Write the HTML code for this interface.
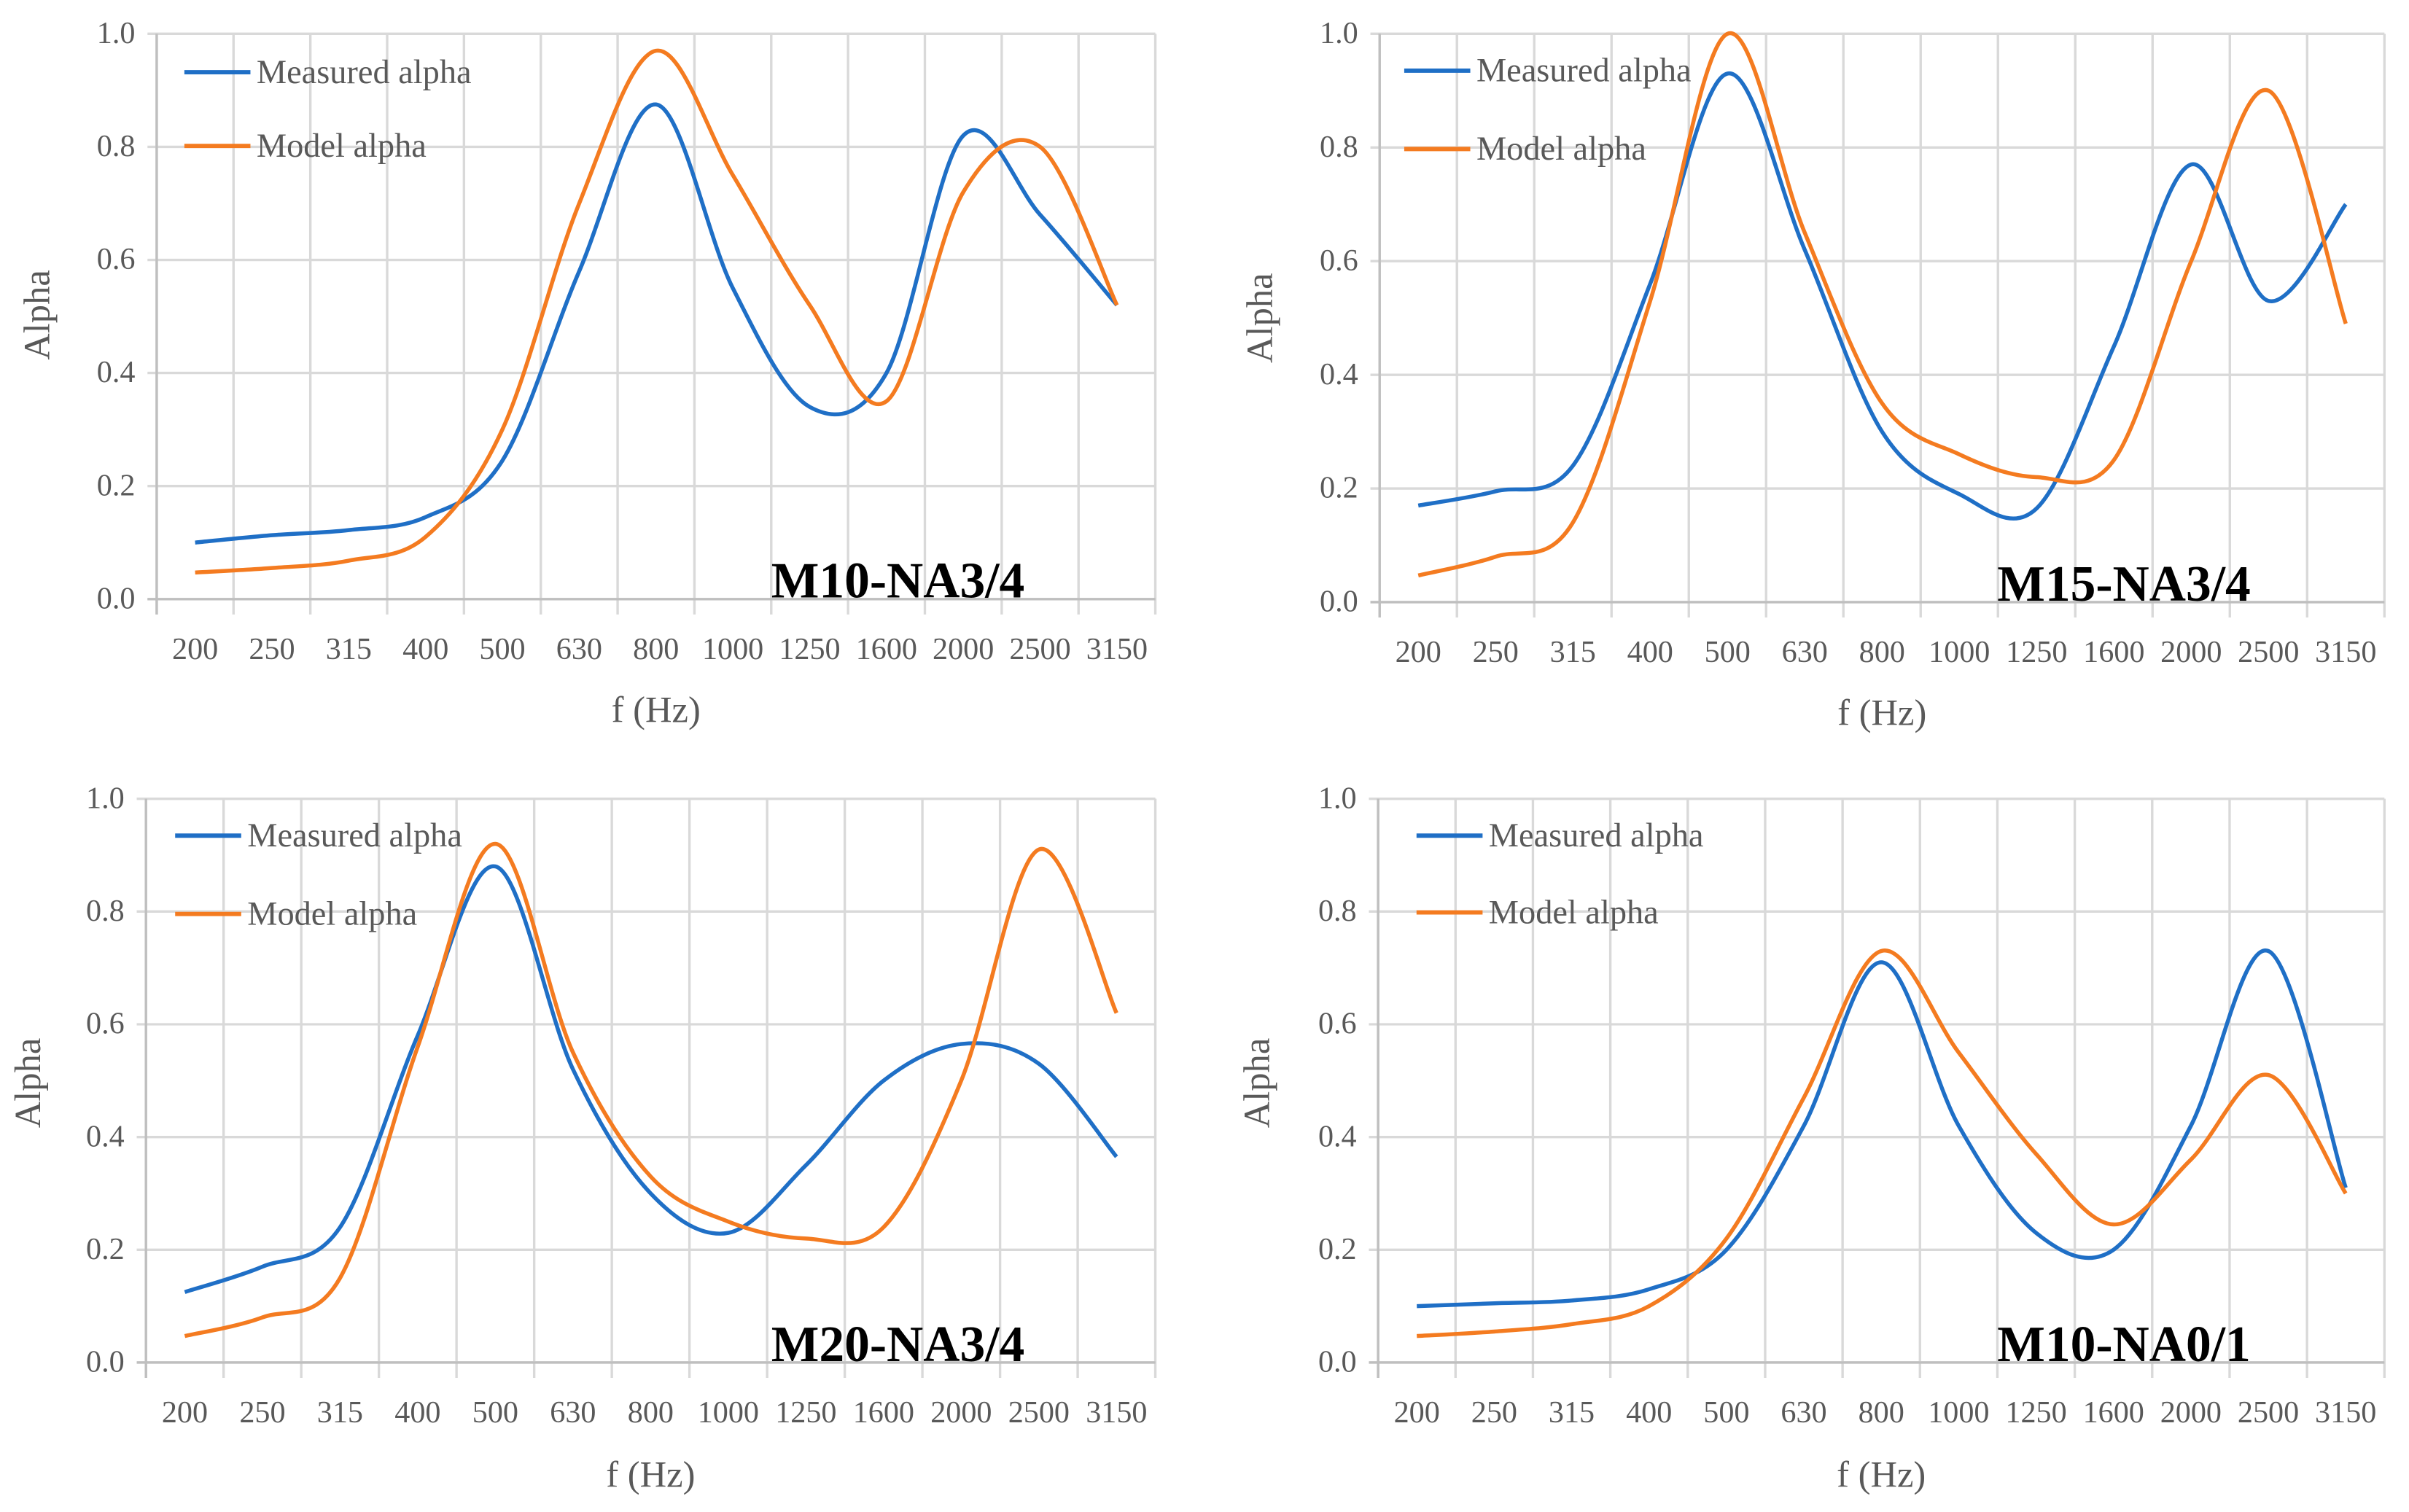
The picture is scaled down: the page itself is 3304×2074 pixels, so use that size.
<!DOCTYPE html>
<html><head><meta charset="utf-8"><style>
html,body{margin:0;padding:0;background:#fff;}
svg{display:block;}
.tick{font-family:"Liberation Serif",serif;font-size:20px;fill:#595959;}
.axt{font-family:"Liberation Serif",serif;font-size:24px;fill:#595959;}
.leg{font-family:"Liberation Serif",serif;font-size:22px;fill:#595959;}
.ann{font-family:"Liberation Serif",serif;font-size:33px;font-weight:bold;fill:#000;}
</style></head><body>
<svg id="chart" width="3304" height="2074" viewBox="0 0 1568 984.3" preserveAspectRatio="none" xmlns="http://www.w3.org/2000/svg"></svg>
<script>
const categories = ["200","250","315","400","500","630","800","1000","1250","1600","2000","2500","3150"];
const yTicks = ["0.0","0.2","0.4","0.6","0.8","1.0"];
const m10na34Measured = [0.10,0.113,0.122,0.145,0.245,0.58,0.875,0.55,0.34,0.40,0.82,0.68,0.52];
const m10na34Model = [0.047,0.055,0.068,0.11,0.30,0.70,0.97,0.75,0.52,0.35,0.72,0.80,0.52];
const m15na34Measured = [0.17,0.195,0.24,0.56,0.93,0.62,0.30,0.19,0.165,0.45,0.77,0.53,0.70];
const m15na34Model = [0.047,0.08,0.14,0.53,1.0,0.65,0.35,0.26,0.22,0.25,0.60,0.90,0.49];
const m20na34Measured = [0.125,0.17,0.24,0.58,0.88,0.52,0.30,0.23,0.35,0.50,0.565,0.53,0.365];
const m20na34Model = [0.047,0.08,0.15,0.56,0.92,0.55,0.33,0.25,0.22,0.24,0.50,0.91,0.62];
const m10na01Measured = [0.10,0.105,0.11,0.13,0.20,0.42,0.71,0.42,0.23,0.20,0.42,0.73,0.31];
const m10na01Model = [0.047,0.055,0.068,0.10,0.22,0.47,0.73,0.55,0.37,0.245,0.36,0.51,0.30];

const NS="http://www.w3.org/2000/svg";
const svg=document.getElementById('chart');
function mk(tag,attrs,parent){const e=document.createElementNS(NS,tag);for(const k in attrs)e.setAttribute(k,attrs[k]);(parent||svg).appendChild(e);return e;}

const panels=[
 {id:"m10-na34",L:102,R:752,T:22,B:390,meas:m10na34Measured,mod:m10na34Model,label:"M10-NA3/4",ax:502,ay:390,legX:120,legY1:47,legY2:95,xt:462,yt:205,ytx:32},
 {id:"m15-na34",L:898,R:1552,T:22,B:392,meas:m15na34Measured,mod:m15na34Model,label:"M15-NA3/4",ax:1300,ay:392,legX:914,legY1:46,legY2:97,xt:464,yt:207,ytx:828},
 {id:"m20-na34",L:95,R:752,T:520,B:887,meas:m20na34Measured,mod:m20na34Model,label:"M20-NA3/4",ax:502,ay:887,legX:114,legY1:544,legY2:595,xt:960,yt:705,ytx:26},
 {id:"m10-na01",L:897,R:1552,T:520,B:887,meas:m10na01Measured,mod:m10na01Model,label:"M10-NA0/1",ax:1300,ay:887,legX:922,legY1:544,legY2:594,xt:960,yt:705,ytx:826}
];

function smoothPath(pts){
  let d="M"+pts[0][0].toFixed(2)+","+pts[0][1].toFixed(2);
  for(let i=0;i<pts.length-1;i++){
    const p0=pts[Math.max(0,i-1)],p1=pts[i],p2=pts[i+1],p3=pts[Math.min(pts.length-1,i+2)];
    const c1=[p1[0]+(p2[0]-p0[0])/6,p1[1]+(p2[1]-p0[1])/6];
    const c2=[p2[0]-(p3[0]-p1[0])/6,p2[1]-(p3[1]-p1[1])/6];
    d+=" C"+c1[0].toFixed(2)+","+c1[1].toFixed(2)+" "+c2[0].toFixed(2)+","+c2[1].toFixed(2)+" "+p2[0].toFixed(2)+","+p2[1].toFixed(2);
  }
  return d;
}

panels.forEach(p=>{
  const g=mk('g',{});
  
  
  const n=categories.length, bw=(p.R-p.L)/n;
  const xS=i=>p.L+bw*(i+0.5);
  const yS=v=>p.B-(p.B-p.T)*v;
  yTicks.forEach((t,i)=>{
    const v=parseFloat(t), y=yS(v);
    const ln=mk('line',{x1:p.L-6,x2:p.R,y1:y,y2:y,stroke:'#d9d9d9','stroke-width':1.6},g);
    
    
    const tx=mk('text',{x:p.L-14,y:y+6,'text-anchor':'end',class:'tick'},g);
    tx.textContent=t;
    
    
  });
  for(let i=0;i<=n;i++){
    const x=p.L+bw*i;
    const ln=mk('line',{x1:x,x2:x,y1:p.T,y2:p.B+10,stroke:'#d9d9d9','stroke-width':1.6},g);
    
    
  }
  mk('line',{x1:p.L,x2:p.L,y1:p.T,y2:p.B+10,stroke:'#bfbfbf','stroke-width':1.6},g);
  mk('line',{x1:p.L-6,x2:p.R,y1:p.B,y2:p.B,stroke:'#bfbfbf','stroke-width':1.6},g);
  categories.forEach((c,i)=>{
    const tx=mk('text',{x:xS(i),y:p.B+39,'text-anchor':'middle',class:'tick'},g);
    tx.textContent=c;
    
    
  });
  const xt=mk('text',{x:(p.L+p.R)/2,y:p.xt+8,'text-anchor':'middle',class:'axt'},g);
  xt.textContent="f (Hz)";
  
  
  const yt=mk('text',{x:p.ytx,y:p.yt,'text-anchor':'middle',class:'axt',transform:'rotate(-90 '+p.ytx+' '+p.yt+')'},g);
  yt.textContent="Alpha";
  
  
  const ptsM=p.meas.map((v,i)=>[xS(i),yS(v)]);
  const ptsO=p.mod.map((v,i)=>[xS(i),yS(v)]);
  const lm=mk('path',{d:smoothPath(ptsM),fill:'none',stroke:'#1f6fc6','stroke-width':2.6},g);
  
  
  const lo=mk('path',{d:smoothPath(ptsO),fill:'none',stroke:'#f47b20','stroke-width':2.6},g);
  
  
  const l1=mk('line',{x1:p.legX,x2:p.legX+43,y1:p.legY1,y2:p.legY1,stroke:'#1f6fc6','stroke-width':2.8},g);
  
  
  const t1=mk('text',{x:p.legX+47,y:p.legY1+7,class:'leg'},g);
  t1.textContent="Measured alpha";
  
  
  const l2=mk('line',{x1:p.legX,x2:p.legX+43,y1:p.legY2,y2:p.legY2,stroke:'#f47b20','stroke-width':2.8},g);
  
  
  const t2=mk('text',{x:p.legX+47,y:p.legY2+7,class:'leg'},g);
  t2.textContent="Model alpha";
  
  
  const an=mk('text',{x:p.ax,y:p.ay-1,class:'ann'},g);
  an.textContent=p.label;
  
  
});
</script>
</body></html>
